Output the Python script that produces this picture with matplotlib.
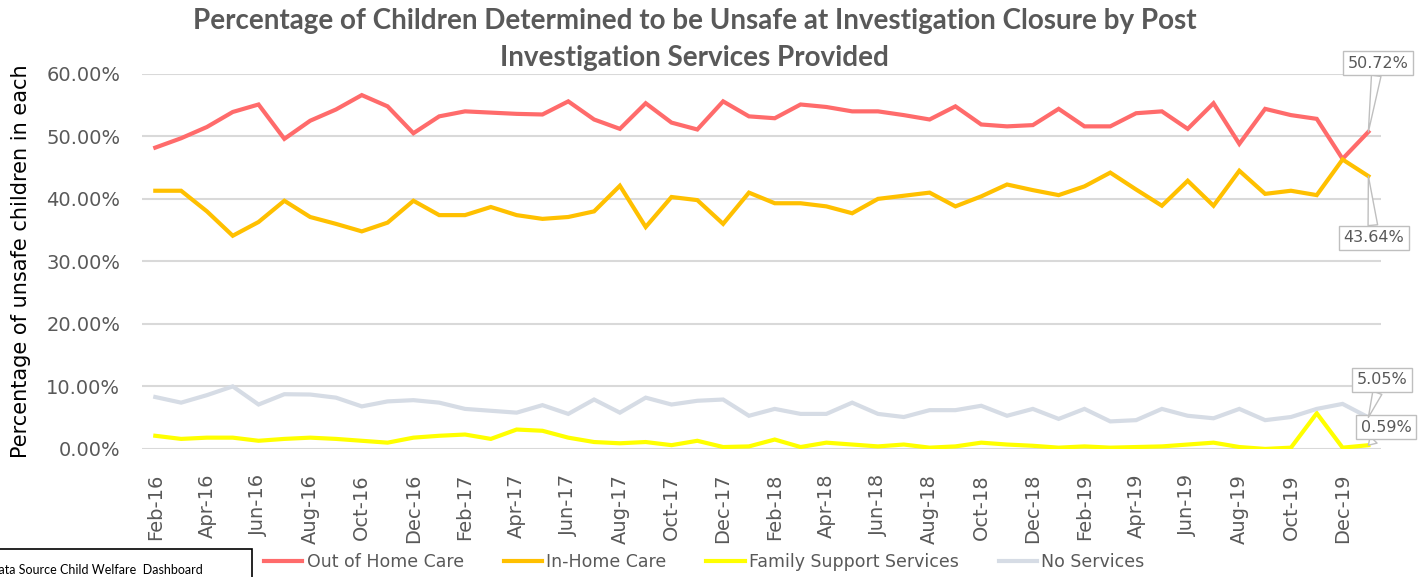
import matplotlib
matplotlib.use("Agg")
import matplotlib.pyplot as plt
from matplotlib.patches import Rectangle

# months Feb-16 .. Jan-20
months = ["Feb-16", "Mar-16", "Apr-16", "May-16", "Jun-16", "Jul-16", "Aug-16", "Sep-16",
          "Oct-16", "Nov-16", "Dec-16", "Jan-17", "Feb-17", "Mar-17", "Apr-17", "May-17",
          "Jun-17", "Jul-17", "Aug-17", "Sep-17", "Oct-17", "Nov-17", "Dec-17", "Jan-18",
          "Feb-18", "Mar-18", "Apr-18", "May-18", "Jun-18", "Jul-18", "Aug-18", "Sep-18",
          "Oct-18", "Nov-18", "Dec-18", "Jan-19", "Feb-19", "Mar-19", "Apr-19", "May-19",
          "Jun-19", "Jul-19", "Aug-19", "Sep-19", "Oct-19", "Nov-19", "Dec-19", "Jan-20"]

out_of_home = [48.2, 49.7, 51.5, 53.9, 55.1, 49.6, 52.5, 54.3, 56.6, 54.8, 50.5, 53.2,
               54.0, 53.8, 53.6, 53.5, 55.6, 52.7, 51.2, 55.3, 52.2, 51.1, 55.6, 53.2,
               52.9, 55.1, 54.7, 54.0, 54.0, 53.4, 52.7, 54.8, 51.9, 51.6, 51.8, 54.4,
               51.6, 51.6, 53.7, 54.0, 51.2, 55.3, 48.8, 54.4, 53.4, 52.8, 46.4, 50.72]

in_home = [41.3, 41.3, 38.0, 34.1, 36.3, 39.7, 37.1, 36.0, 34.8, 36.2, 39.7, 37.4,
           37.4, 38.7, 37.4, 36.8, 37.1, 38.0, 42.1, 35.5, 40.3, 39.8, 36.0, 41.0,
           39.3, 39.3, 38.8, 37.7, 40.0, 40.5, 41.0, 38.8, 40.4, 42.3, 41.4, 40.6,
           42.0, 44.2, 41.5, 38.9, 42.9, 38.9, 44.5, 40.8, 41.3, 40.6, 46.3, 43.64]

family_support = [2.1, 1.6, 1.8, 1.8, 1.3, 1.6, 1.8, 1.6, 1.3, 1.0, 1.8, 2.1,
                  2.3, 1.6, 3.1, 2.9, 1.8, 1.1, 0.9, 1.1, 0.6, 1.3, 0.3, 0.4,
                  1.5, 0.3, 1.0, 0.7, 0.4, 0.7, 0.2, 0.4, 1.0, 0.7, 0.5, 0.2,
                  0.4, 0.2, 0.3, 0.4, 0.7, 1.0, 0.3, 0.0, 0.2, 5.7, 0.2, 0.59]

no_services = [8.3, 7.4, 8.6, 10.0, 7.1, 8.75, 8.7, 8.2, 6.8, 7.6, 7.8, 7.4,
               6.4, 6.1, 5.8, 7.0, 5.6, 7.9, 5.8, 8.2, 7.1, 7.7, 7.9, 5.3,
               6.4, 5.6, 5.6, 7.4, 5.6, 5.1, 6.2, 6.2, 6.9, 5.3, 6.4, 4.8,
               6.4, 4.4, 4.6, 6.4, 5.3, 4.9, 6.4, 4.6, 5.1, 6.4, 7.2, 5.05]

series_names = ["Out of Home Care", "In-Home Care", "Family Support Services", "No Services"]
colors = ["#FF6B6B", "#FFC000", "#FFFF00", "#D6DCE5"]
last_labels = ["50.72%", "43.64%", "0.59%", "5.05%"]

GRAY = "#595959"

fig = plt.figure(figsize=(14.24, 5.77), dpi=100)
ax = fig.add_axes([0.100, 0.222, 0.870, 0.650])

x = list(range(len(months)))
all_series = [out_of_home, in_home, family_support, no_services]
for vals, name, c in zip(all_series, series_names, colors):
    ax.plot(x, [v / 100 for v in vals], color=c, lw=3, label=name, solid_joinstyle="miter")

ax.set_xlim(-0.5, len(months) - 0.5)
ax.set_ylim(0, 0.6)
ax.set_yticks([0, 0.1, 0.2, 0.3, 0.4, 0.5, 0.6])
ax.set_yticklabels([f"{v:.2f}%" for v in [0, 10, 20, 30, 40, 50, 60]])
ax.set_xticks(x[::2])
ax.set_xticklabels(months[::2], rotation=90)
ax.tick_params(axis="both", length=0, colors=GRAY, labelsize=14)
ax.tick_params(axis="y", pad=16)
ax.tick_params(axis="x", pad=18)
ax.grid(axis="y", color="#D9D9D9", lw=1.5)
ax.set_axisbelow(True)
for s in ax.spines.values():
    s.set_visible(False)

ax.set_ylabel("Percentage of unsafe children in each", fontsize=15, color="black")
ax.yaxis.set_label_coords(-0.090, 0.5)

# end-point callouts (text box positions in figure pixels)
box_pos = [(1378, 514), (1374, 339), (1386, 150), (1382, 197)]
for vals, lab, pos in zip(all_series, last_labels, box_pos):
    ax.annotate(lab, xy=(x[-1], vals[-1] / 100), xytext=pos, textcoords="figure pixels",
                ha="center", va="center", fontsize=11.5, color=GRAY,
                bbox=dict(boxstyle="square,pad=0.3", fc="white", ec="#BFBFBF", lw=1),
                arrowprops=dict(arrowstyle="wedge,tail_width=0.6", fc="white",
                                ec="#BFBFBF", lw=1, shrinkA=0, shrinkB=0),
                annotation_clip=False, zorder=5)

fig.text(0.488, 0.963, "Percentage of Children Determined to be Unsafe at Investigation Closure by Post",
         ha="center", va="center", fontsize=20, fontweight="bold", color=GRAY, family="Lato")
fig.text(0.488, 0.900, "Investigation Services Provided",
         ha="center", va="center", fontsize=20, fontweight="bold", color=GRAY, family="Lato")

fig.legend(loc="center left", bbox_to_anchor=(0.1855, 0.026), ncol=4, frameon=False,
           fontsize=12.5, handlelength=2.2, handletextpad=0.25, columnspacing=2.3,
           labelcolor=GRAY, borderaxespad=0, borderpad=0)

# data source box in the lower-left corner
fig.patches.append(Rectangle((-0.01, -0.02), 0.187, 0.068, transform=fig.transFigure,
                             fill=False, ec="black", lw=1.2))
fig.text(-0.0075, 0.012, "Data Source Child Welfare  Dashboard", fontsize=9, color="black",
         family="Lato", ha="left", va="center")

fig.savefig("out.png", dpi=100)
